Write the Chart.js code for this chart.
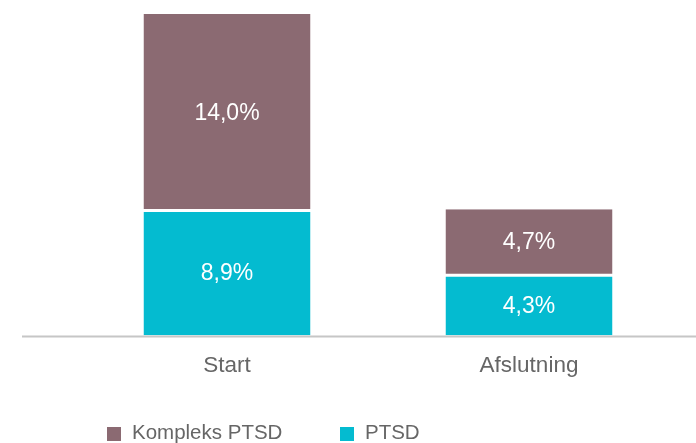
<!DOCTYPE html>
<html>
<head>
<meta charset="utf-8">
<script src="https://cdn.jsdelivr.net/npm/chart.js@4"></script>
<style>
  html, body { margin: 0; padding: 0; background: #fff; }
  #wrap { position: relative; width: 696px; height: 443px; }
  #legend { position: absolute; left: 0; top: 0; width: 696px; height: 443px; pointer-events: none;
            font-family: "Liberation Sans", Arial, sans-serif; font-size: 20.5px; color: #666; }
  .item { position: absolute; top: 422px; height: 20px; line-height: 20px; white-space: nowrap; }
  .box { position: absolute; top: 5px; left: 0; width: 14px; height: 14px; }
  .txt { position: absolute; left: 25px; top: 0; }
</style>
</head>
<body>
<div id="wrap">
  <canvas id="myChart" width="696" height="443"></canvas>
  <div id="legend"></div>
</div>
<script>
var categories = ["Start", "Afslutning"];
var ptsdValues = [8.9, 4.3];
var kompleksValues = [14.0, 4.7];
var seriesNames = ["Kompleks PTSD", "PTSD"];
var seriesColors = ["#8b6a72", "#04bbd0"];

function formatPct(v) {
  return v.toFixed(1).replace(".", ",") + "%";
}

// tal midt i hver stak
var barLabels = {
  id: "barLabels",
  afterDatasetsDraw: function (chart) {
    var ctx = chart.ctx;
    ctx.save();
    ctx.fillStyle = "#ffffff";
    ctx.font = "23px 'Liberation Sans', Arial, sans-serif";
    ctx.textAlign = "center";
    ctx.textBaseline = "middle";
    chart.data.datasets.forEach(function (ds, i) {
      var meta = chart.getDatasetMeta(i);
      meta.data.forEach(function (bar, j) {
        ctx.fillText(formatPct(ds.data[j]), bar.x, (bar.y + bar.base) / 2 + 1);
      });
    });
    ctx.restore();
  },
};

// grundlinje hele vejen ud
var baseLine = {
  id: "baseLine",
  afterDraw: function (chart) {
    var ctx = chart.ctx;
    var y = chart.scales.y.getPixelForValue(0) + 1;
    ctx.save();
    ctx.strokeStyle = "#c6c6c6";
    ctx.lineWidth = 2;
    ctx.beginPath();
    ctx.moveTo(22, y);
    ctx.lineTo(chart.width, y);
    ctx.stroke();
    ctx.restore();
  },
};

var totals = ptsdValues.map(function (v, i) { return v + kompleksValues[i]; });

var ctx = document.getElementById("myChart").getContext("2d");
var myChart = new Chart(ctx, {
  type: "bar",
  data: {
    labels: categories,
    datasets: [
      {
        label: seriesNames[1],
        data: ptsdValues,
        backgroundColor: seriesColors[1],
        borderColor: "#ffffff",
        borderWidth: { top: 1.5, bottom: 0, left: 0, right: 0 },
        borderSkipped: false,
      },
      {
        label: seriesNames[0],
        data: kompleksValues,
        backgroundColor: seriesColors[0],
        borderColor: "#ffffff",
        borderWidth: { top: 0, bottom: 1.5, left: 0, right: 0 },
        borderSkipped: false,
      },
    ],
  },
  options: {
    responsive: false,
    animation: false,
    layout: { padding: { left: 76, right: 16, top: 14, bottom: 57.5 } },
    datasets: { bar: { categoryPercentage: 1, barPercentage: 0.553 } },
    scales: {
      x: {
        stacked: true,
        grid: { display: false, drawTicks: false },
        border: { display: false },
        ticks: {
          color: "#666",
          padding: 17,
          font: { family: "'Liberation Sans', Arial, sans-serif", size: 22.5 },
        },
        afterFit: function (scale) { scale.height = 50; },
      },
      y: {
        stacked: true,
        display: false,
        min: 0,
        max: Math.max.apply(null, totals),
      },
    },
    plugins: {
      legend: { display: false },
      tooltip: { enabled: false },
    },
  },
  plugins: [barLabels, baseLine],
});

// forklaring under diagrammet
var legendLefts = [107, 340];
var legendEl = document.getElementById("legend");
seriesNames.forEach(function (name, i) {
  var item = document.createElement("div");
  item.className = "item";
  item.style.left = legendLefts[i] + "px";
  item.innerHTML = '<span class="box" style="background:' + seriesColors[i] + '"></span><span class="txt">' + name + "</span>";
  legendEl.appendChild(item);
});
</script>
</body>
</html>
